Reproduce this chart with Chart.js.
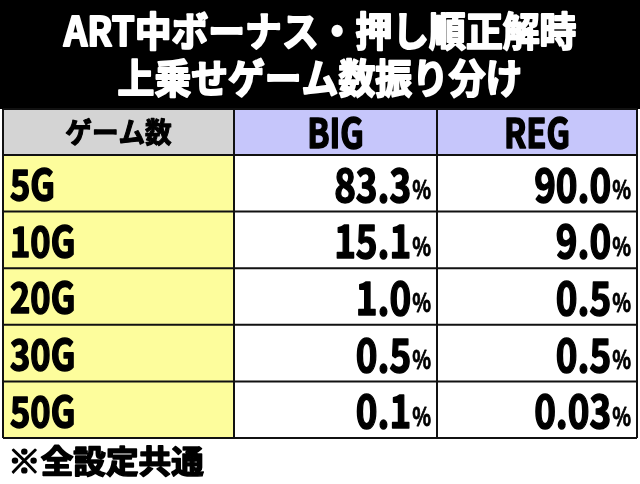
<!DOCTYPE html>
<html><head><meta charset="utf-8">
<script src="https://cdn.jsdelivr.net/npm/chart.js@4"></script>
<style>html,body{margin:0;padding:0;background:#fff}#w{width:640px;height:484px}</style>
</head><body><div id="w"><canvas id="c"></canvas></div>
<script>
const titleLines = ["ART中ボーナス・押し順正解時", "上乗せゲーム数振り分け"];
const headers = ["ゲーム数", "BIG", "REG"];
const categories = ["5G", "10G", "20G", "30G", "50G"];
const bigValues = ["83.3", "15.1", "1.0", "0.5", "0.1"];
const regValues = ["90.0", "9.0", "0.5", "0.5", "0.03"];
const footnote = "※全設定共通";

// layout constants (not data)
const colEdges = [0, 231, 434, 634];
const rowEdges = [0, 46, 102.6, 159.2, 215.8, 272.4, 329];
const FONT = '"Noto Sans CJK JP","Noto Sans",sans-serif';

function condText(ctx, txt, x, y, size, align, sx, stroke) {
  ctx.save();
  ctx.font = `bold ${size}px ${FONT}`;
  ctx.textBaseline = 'middle';
  const w = ctx.measureText(txt).width * sx;
  let left = align === 'center' ? x - w / 2 : align === 'right' ? x - w : x;
  ctx.translate(left, y);
  ctx.scale(sx, 1);
  ctx.textAlign = 'left';
  ctx.fillText(txt, 0, 0);
  ctx.strokeStyle = ctx.fillStyle;
  ctx.lineWidth = stroke === undefined ? 1.6 : stroke;
  ctx.lineJoin = 'round';
  if (ctx.lineWidth > 0) ctx.strokeText(txt, 0, 0);
  ctx.restore();
  return w;
}

const tablePlugin = {
  id: 'table',
  afterDraw(chart) {
    const ctx = chart.ctx, xs = chart.scales.x, ys = chart.scales.y;
    const X = v => xs.getPixelForValue(v), Y = v => ys.getPixelForValue(v);
    ctx.fillStyle = '#000';
    ctx.fillRect(0, 0, 640, 109);
    ctx.fillStyle = '#fff';
    condText(ctx, titleLines[0], 320, 31, 40, 'center', 0.92, 2);
    condText(ctx, titleLines[1], 320, 78, 40, 'center', 0.92, 2);
    for (let r = 0; r < rowEdges.length - 1; r++) {
      for (let c = 0; c < 3; c++) {
        const x0 = X(colEdges[c]), x1 = X(colEdges[c + 1]);
        const y0 = Y(rowEdges[r]), y1 = Y(rowEdges[r + 1]);
        let fill = '#fff';
        if (r === 0) fill = c === 0 ? '#d4d4d4' : '#c6c6fb';
        else if (c === 0) fill = '#fdfd9c';
        ctx.fillStyle = fill;
        ctx.fillRect(x0, y0, x1 - x0, y1 - y0);
      }
    }
    ctx.strokeStyle = '#111';
    ctx.lineWidth = 2;
    rowEdges.forEach(v => { ctx.beginPath(); ctx.moveTo(X(colEdges[0]), Y(v)); ctx.lineTo(X(colEdges[3]), Y(v)); ctx.stroke(); });
    colEdges.forEach(v => { ctx.beginPath(); ctx.moveTo(X(v), Y(rowEdges[0])); ctx.lineTo(X(v), Y(rowEdges[6])); ctx.stroke(); });
    ctx.fillStyle = '#000';
    const hy = (Y(rowEdges[0]) + Y(rowEdges[1])) / 2;
    condText(ctx, headers[0], (X(colEdges[0]) + X(colEdges[1])) / 2, hy, 28, 'center', 0.95, 1.2);
    condText(ctx, headers[1], (X(colEdges[1]) + X(colEdges[2])) / 2, hy + 1, 40, 'center', 0.82);
    condText(ctx, headers[2], (X(colEdges[2]) + X(colEdges[3])) / 2, hy + 1, 40, 'center', 0.82);
    categories.forEach((cat, i) => {
      const cy = (Y(rowEdges[i + 1]) + Y(rowEdges[i + 2])) / 2 + 1;
      condText(ctx, cat, X(colEdges[0]) + 7, cy, 42, 'left', 0.82);
      [bigValues[i], regValues[i]].forEach((v, k) => {
        const right = X(colEdges[k + 2]) - 6;
        const pw = condText(ctx, '%', right, cy + 5, 26, 'right', 0.75, 0.8);
        condText(ctx, v, right - pw - 1, cy, 46, 'right', 0.8);
      });
    });
    condText(ctx, footnote, 8, 461, 32, 'left', 1.02, 1.6);
  }
};

new Chart(document.getElementById('c'), {
  type: 'scatter',
  data: { datasets: [{ data: [] }] },
  options: {
    responsive: true, maintainAspectRatio: false, animation: false,
    layout: { padding: { top: 109, bottom: 46, left: 3, right: 3 } },
    plugins: { legend: { display: false }, tooltip: { enabled: false }, title: { display: false } },
    scales: {
      x: { type: 'linear', min: 0, max: 634, display: false },
      y: { type: 'linear', min: 0, max: 329, reverse: true, display: false }
    }
  },
  plugins: [tablePlugin]
});
</script></body></html>
